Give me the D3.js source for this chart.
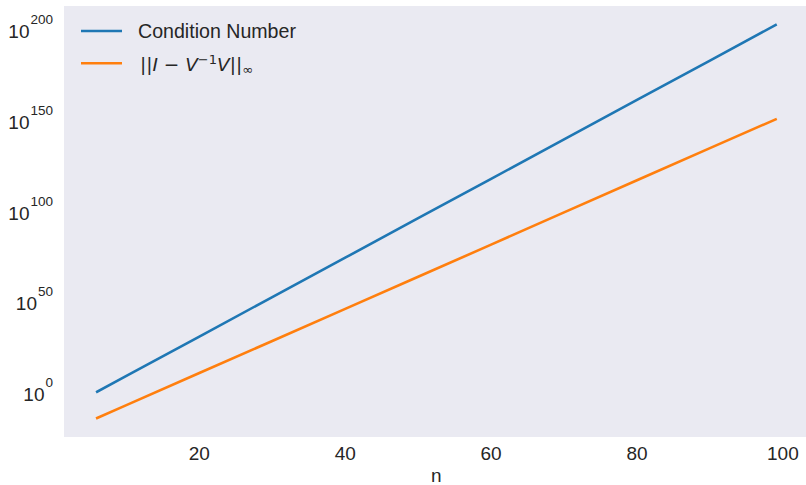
<!DOCTYPE html>
<html>
<head>
    <meta charset="utf-8">
    <title>Condition number</title>
    <style>
        body { margin: 0; background: #fff; }
        text { fill: #262626; }
    </style>
</head>
<body>
    <div id="chart"></div>

    <script src="https://d3js.org/d3.v7.min.js"></script>
    <script>
        // values, as log10 of the quantity
        const nValues = [6, 10, 20, 30, 40, 50, 60, 70, 80, 90, 99];
        const condLog = [-0.4, 8.3, 30.0, 51.8, 73.5, 95.3, 117.0, 138.7, 160.5, 182.2, 201.8];
        const errLog = [-14.9, -7.8, 9.9, 27.6, 45.3, 63.0, 80.7, 98.5, 116.2, 133.9, 149.8];

        const xTicks = [20, 40, 60, 80, 100];
        const yTickExps = [0, 50, 100, 150, 200];

        const width = 806;
        const height = 485;
        const plot = { left: 64, top: 6, right: 806, bottom: 437 };

        const svg = d3.select('#chart')
            .append('svg')
            .attr('width', width)
            .attr('height', height)
            .style('font-family', '"Liberation Sans", Arial, sans-serif');

        const x = d3.scaleLinear()
            .domain([1.35, 103.65])
            .range([63.3, 809.5]);

        const y = d3.scaleLog()
            .domain([Math.pow(10, -25.37), Math.pow(10, 212.3)])
            .range([plot.bottom, plot.top]);

        svg.append('defs').append('clipPath')
            .attr('id', 'clip')
            .append('rect')
            .attr('x', plot.left)
            .attr('y', plot.top)
            .attr('width', plot.right - plot.left)
            .attr('height', plot.bottom - plot.top);

        // axes background
        svg.append('rect')
            .attr('x', plot.left)
            .attr('y', plot.top)
            .attr('width', plot.right - plot.left)
            .attr('height', plot.bottom - plot.top)
            .attr('fill', '#eaeaf2');

        // x ticks
        svg.append('g')
            .selectAll('text')
            .data(xTicks)
            .enter()
            .append('text')
            .attr('x', d => x(d))
            .attr('y', 460)
            .attr('text-anchor', 'middle')
            .style('font-size', '19px')
            .text(d => d);

        svg.append('text')
            .attr('x', x(52.5))
            .attr('y', 482)
            .attr('text-anchor', 'middle')
            .style('font-size', '19px')
            .text('n');

        // y ticks, 10^k
        const yLab = svg.append('g')
            .selectAll('text')
            .data(yTickExps)
            .enter()
            .append('text')
            .attr('x', 53)
            .attr('y', d => y(Math.pow(10, d)) + 10)
            .attr('text-anchor', 'end')
            .style('font-size', '19px');
        yLab.append('tspan').text('10');
        yLab.append('tspan')
            .attr('dy', -14)
            .attr('dx', 1)
            .style('font-size', '13.5px')
            .text(d => d);

        const line = d3.line()
            .x(d => x(d.n))
            .y(d => y(Math.pow(10, d.v)));

        const series = [
            { name: 'cond', color: '#1f77b4', vals: condLog },
            { name: 'err', color: '#ff7f0e', vals: errLog }
        ];

        svg.append('g')
            .attr('clip-path', 'url(#clip)')
            .selectAll('path')
            .data(series)
            .enter()
            .append('path')
            .attr('d', s => line(nValues.map((n, i) => ({ n: n, v: s.vals[i] }))))
            .attr('fill', 'none')
            .attr('stroke', s => s.color)
            .attr('stroke-width', 2.6)
            .attr('stroke-linecap', 'square');

        // legend
        const legend = svg.append('g');
        legend.append('line')
            .attr('x1', 81).attr('x2', 122)
            .attr('y1', 31).attr('y2', 31)
            .attr('stroke', '#1f77b4').attr('stroke-width', 2.6);
        legend.append('text')
            .attr('x', 138)
            .attr('y', 37.9)
            .style('font-size', '19.6px')
            .text('Condition Number');

        legend.append('line')
            .attr('x1', 81).attr('x2', 122)
            .attr('y1', 63.3).attr('y2', 63.3)
            .attr('stroke', '#ff7f0e').attr('stroke-width', 2.6);
        const math = legend.append('text')
            .attr('x', 140)
            .attr('y', 70.5)
            .style('font-family', '"DejaVu Sans", sans-serif')
            .style('font-size', '18.5px');
        math.append('tspan').text('||');
        math.append('tspan').style('font-style', 'italic').text('I');
        math.append('tspan').text(' \u2212 ');
        math.append('tspan').style('font-style', 'italic').text('V');
        math.append('tspan').attr('dy', -7).style('font-size', '13px').text('\u22121');
        math.append('tspan').attr('dy', 7).style('font-style', 'italic').text('V');
        math.append('tspan').text('||');
        math.append('tspan').attr('dy', 3).style('font-size', '13px').text('\u221e');
    </script>
</body>
</html>
